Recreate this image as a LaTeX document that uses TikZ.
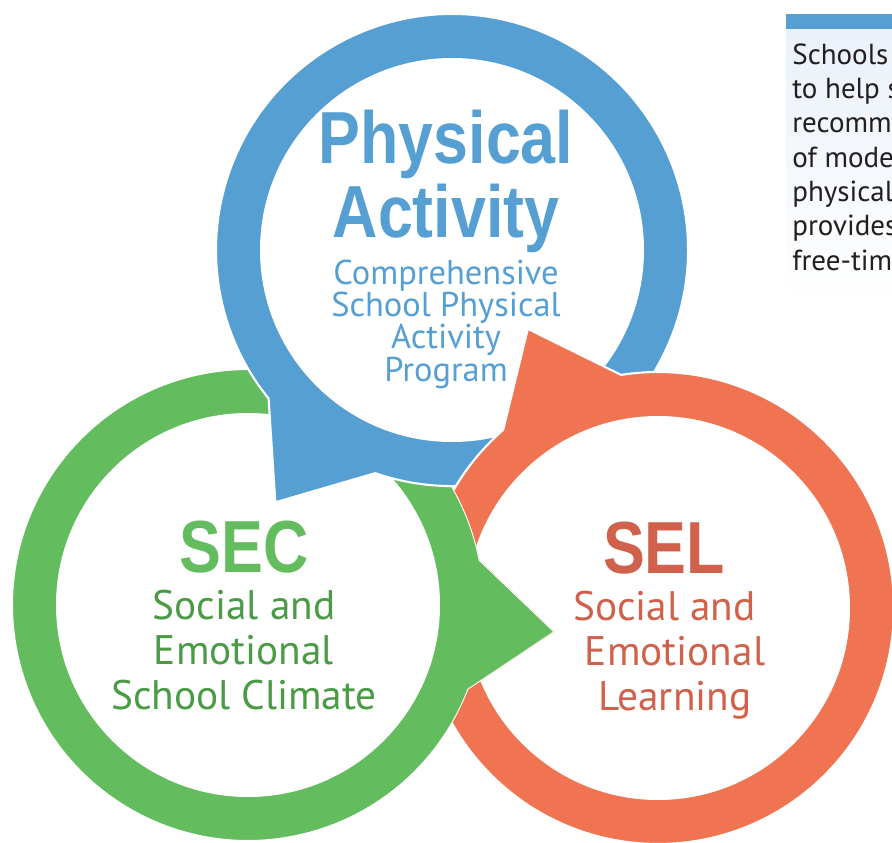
\documentclass[tikz,border=0pt]{standalone}
\usepackage{fontspec}
\setmainfont{PT Sans}
\newfontfamily\headfont[FakeStretch=0.85]{Liberation Sans}
\usetikzlibrary{calc}

\definecolor{pablue}{HTML}{559FD3}
\definecolor{secgreen}{HTML}{63BD5E}
\definecolor{secdark}{HTML}{4A9A46}
\definecolor{selred}{HTML}{F07352}
\definecolor{seldark}{HTML}{D0614A}
\definecolor{boxbg}{HTML}{EAF1F9}
\definecolor{boxink}{HTML}{231F20}

% ring with a pointer: #1 centre, #2 direction of the pointer
\newcommand\ringpath[2]{($(#1)+(#2+16:236)$) arc[start angle=#2+16, end angle=#2+344, radius=236] -- ($(#1)+(#2:308)$) -- cycle}

\begin{document}
\begin{tikzpicture}[
  x=0.02cm, y=0.02cm,
  ringedge/.style={draw=white, line width=1.2pt},
  headtext/.style={font=\headfont\bfseries\fontsize{42}{42}\selectfont, align=center, anchor=base},
  subtext/.style={align=center, anchor=base}
]
\useasboundingbox (0,0) rectangle (892,-842);

\coordinate (pac) at (452,-250);
\coordinate (secc) at (248,-605);
\coordinate (selc) at (658,-608);

% green first, blue over it
\fill[secgreen, ringedge] \ringpath{secc}{-5};
\fill[white] (secc) circle[radius=192];
\fill[pablue, ringedge] \ringpath{pac}{235};
\fill[white] (pac) circle[radius=192];

% red over blue, but under green
\begin{scope}[even odd rule]
  \clip (-10,10) rectangle (902,-852) \ringpath{secc}{-5};
  \fill[selred, ringedge] \ringpath{selc}{115};
  \fill[white] (selc) circle[radius=192];
\end{scope}

% base anchor = baseline of the last line
\node[headtext, text=pablue] (pahead) at (446,-237) {Physical\\Activity};
\node[subtext, text=pablue, font=\fontsize{19.6}{18.4}\selectfont] (pasub) at (446,-381)
  {Comprehensive\\School Physical\\Activity\\Program};

\node[headtext, text=secgreen] (sechead) at (244,-572) {SEC};
\node[subtext, text=secdark, font=\fontsize{23.5}{25.5}\selectfont] (secsub) at (244,-709)
  {Social and\\Emotional\\School Climate};

\node[headtext, text=seldark] (selhead) at (664,-573) {SEL};
\node[subtext, text=seldark, font=\fontsize{23.5}{25.5}\selectfont] (selsub) at (675,-710)
  {Social and\hspace*{12pt}\\Emotional\\Learning};

% side box
\begin{scope}
  \clip (786,-10) rectangle (892,-320);
  \fill[pablue] (786,-14) rectangle (892,-29);
  \shade[top color=boxbg, bottom color=white] (786,-29) rectangle (892,-300);
  \node[text=boxink, align=left, anchor=base west, inner sep=0pt,
    font=\fontsize{16.5}{19.5}\selectfont] (boxnote) at (792,-270)
    {Schools\\to help s\\recomm\\of mode\\physical\\provides\\free-tim};
\end{scope}

\end{tikzpicture}
\end{document}
